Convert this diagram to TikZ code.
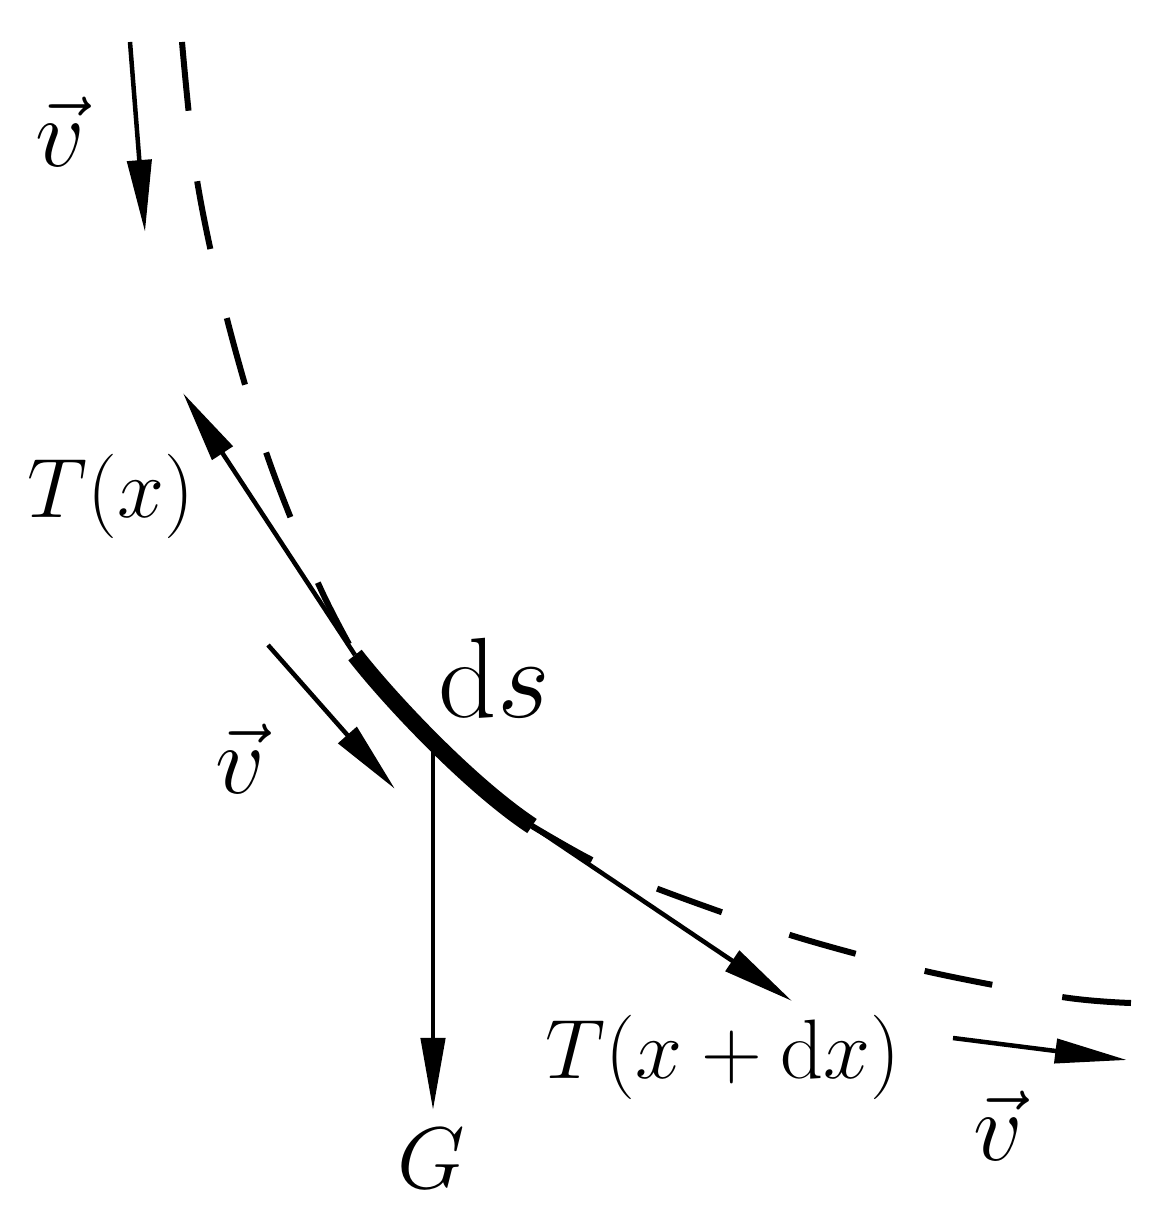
\RequirePackage{fix-cm}
\documentclass[tikz,border=0pt]{standalone}
\usetikzlibrary{arrows.meta}

\begin{document}
\begin{tikzpicture}[x=0.01cm, y=-0.01cm,
    execute at begin node=$, execute at end node=$,
    every node/.style={inner sep=0, anchor=base west},
    big/.style={font=\fontsize{27.7}{33}\selectfont},
    small/.style={font=\fontsize{24}{29}\selectfont},
    force/.style={line width=0.45mm, -{Triangle[length=7.2mm, width=2.4mm]}},
    rope/.style={line width=0.6mm, dash pattern=on 6.9mm off 7.1mm},
    element/.style={line width=1.7mm}
  ]
  \useasboundingbox (0,0) rectangle (1172,1216);

  % the rope and the piece ds
  \coordinate (ds_in) at (355,655);
  \coordinate (ds_out) at (532,826);
  \coordinate (ds_mid) at (433,748);
  \draw[rope] plot[smooth, tension=0.55] coordinates {(182,42) (197,180)
    (226,315) (267,455) (318,583) (355,655)};
  \draw[rope] plot[smooth, tension=0.55] coordinates {(532,826) (592,860)
    (658,889) (790,935) (925,971) (1062,997) (1131,1003)};
  \draw[element] (ds_in) .. controls (390,700) and (470,785) .. (ds_out);

  % end points of the vectors
  \coordinate (v_in) at (130,42);
  \coordinate (v_in_tip) at (145,232);
  \coordinate (v_mid) at (268,645);
  \coordinate (v_mid_tip) at (395,789);
  \coordinate (v_out) at (953,1038);
  \coordinate (v_out_tip) at (1127,1060);
  \coordinate (T_left) at (183,393);
  \coordinate (T_right) at (792,1001);
  \coordinate (G_tip) at (433,1110);

  \draw[force] (v_in) -- (v_in_tip);
  \draw[force] (v_mid) -- (v_mid_tip);
  \draw[force] (v_out) -- (v_out_tip);
  \draw[force] (ds_in) -- (T_left);
  \draw[force] (ds_out) -- (T_right);
  \draw[force] (ds_mid) -- (G_tip);

  \node[big] (v1) at (35,167) {\vec{v}};
  \node[small] (Tx) at (27,518) {T(x)};
  \node[font=\fontsize{32.5}{39}\selectfont] (ds) at (438,717) {\mathrm{d}s};
  \node[big] (v2) at (215,793) {\vec{v}};
  \node[font=\fontsize{24.9}{30}\selectfont] (G) at (397,1188) {G};
  \node[small] (Txdx) at (545,1078) {T(x+\mathrm{d}x)};
  \node[big] (v3) at (973,1160) {\vec{v}};
\end{tikzpicture}
\end{document}
